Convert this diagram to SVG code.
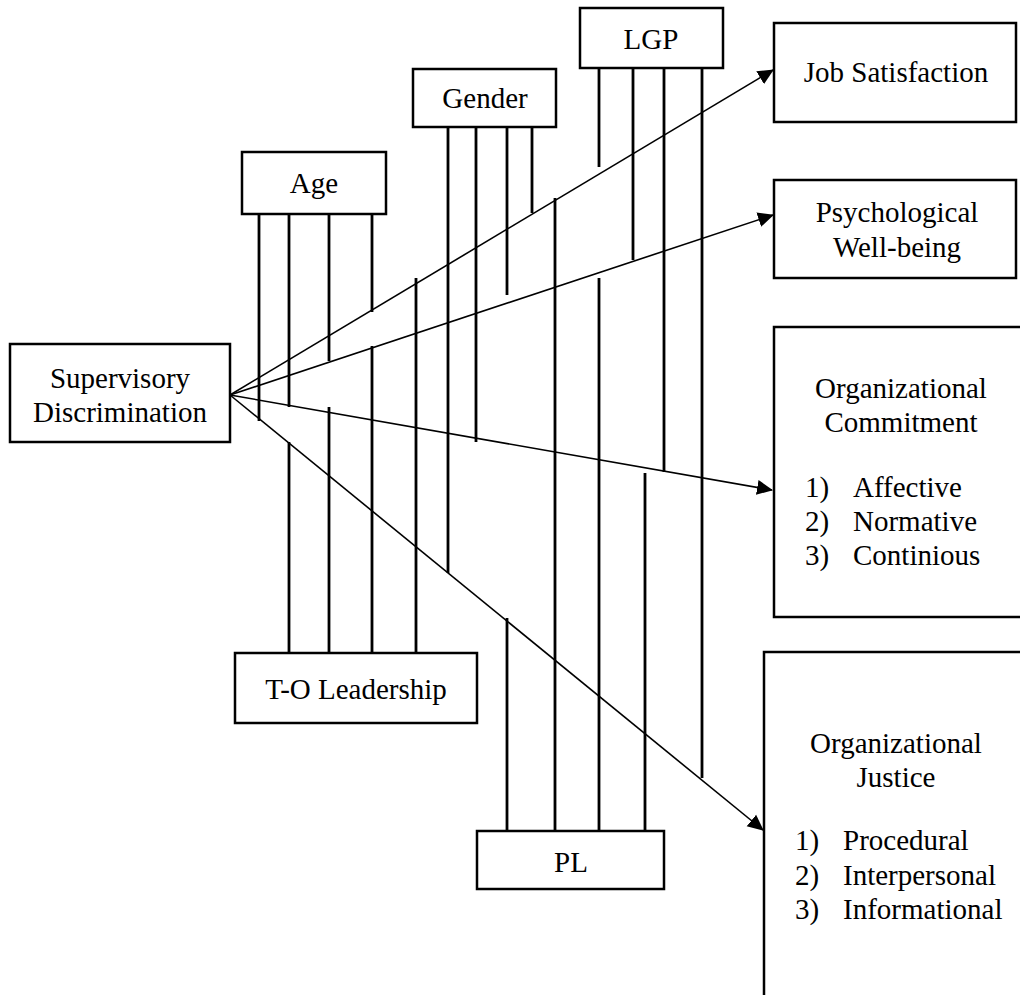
<svg xmlns="http://www.w3.org/2000/svg" width="1020" height="995" viewBox="0 0 1020 995">
<defs>
<style>
.box{fill:#fff;stroke:#000;stroke-width:2.5}
.t{font-family:"Liberation Serif","Times New Roman",serif;font-size:29px;fill:#000}
.c{text-anchor:middle}
.v{stroke:#000;stroke-width:2.8;fill:none}
.a{stroke:#000;stroke-width:1.6;fill:none;marker-end:url(#ah)}
</style>
<marker id="ah" markerUnits="userSpaceOnUse" markerWidth="16" markerHeight="16" viewBox="0 0 16 16" refX="15" refY="8" orient="auto">
<path d="M0,0.5 L16,8 L0,15.5 Z" fill="#000"/>
</marker>
</defs>
<rect width="1020" height="995" fill="#fff"/>
<g id="connectors">
<line class="v" x1="259" y1="214" x2="259" y2="421"/>
<line class="v" x1="289" y1="214" x2="289" y2="407"/>
<line class="v" x1="329" y1="214" x2="329" y2="361"/>
<line class="v" x1="372" y1="214" x2="372" y2="312"/>
<line class="v" x1="289" y1="442" x2="289" y2="653"/>
<line class="v" x1="329" y1="407" x2="329" y2="653"/>
<line class="v" x1="372" y1="346" x2="372" y2="653"/>
<line class="v" x1="416" y1="278" x2="416" y2="653"/>
<line class="v" x1="448" y1="127" x2="448" y2="573"/>
<line class="v" x1="476" y1="127" x2="476" y2="442"/>
<line class="v" x1="507" y1="127" x2="507" y2="295"/>
<line class="v" x1="532" y1="127" x2="532" y2="213"/>
<line class="v" x1="507" y1="618" x2="507" y2="831"/>
<line class="v" x1="555" y1="198" x2="555" y2="831"/>
<line class="v" x1="599" y1="278" x2="599" y2="831"/>
<line class="v" x1="645" y1="473" x2="645" y2="831"/>
<line class="v" x1="599" y1="68" x2="599" y2="167"/>
<line class="v" x1="633" y1="68" x2="633" y2="260"/>
<line class="v" x1="664" y1="68" x2="664" y2="472"/>
<line class="v" x1="702" y1="68" x2="702" y2="778"/>
<line class="a" x1="230" y1="395" x2="773" y2="70"/>
<line class="a" x1="230" y1="395" x2="773" y2="215"/>
<line class="a" x1="230" y1="395" x2="772" y2="490"/>
<line class="a" x1="230" y1="395" x2="763" y2="830"/>
</g>
<g id="supervisory">
<rect class="box" x="10" y="344" width="220" height="98"/>
<text class="t c" x="120" y="388">Supervisory</text>
<text class="t c" x="120" y="422">Discrimination</text>
</g>
<g id="age">
<rect class="box" x="242" y="152" width="144" height="62"/>
<text class="t c" x="314" y="193">Age</text>
</g>
<g id="gender">
<rect class="box" x="413" y="69" width="143" height="58"/>
<text class="t c" x="485" y="108">Gender</text>
</g>
<g id="lgp">
<rect class="box" x="580" y="8" width="143" height="60"/>
<text class="t c" x="651" y="49">LGP</text>
</g>
<g id="tol">
<rect class="box" x="235" y="653" width="242" height="70"/>
<text class="t c" x="356" y="699">T-O Leadership</text>
</g>
<g id="pl">
<rect class="box" x="477" y="831" width="187" height="58"/>
<text class="t c" x="571" y="872">PL</text>
</g>
<g id="jobsat">
<rect class="box" x="774" y="23" width="242" height="99"/>
<text class="t c" x="896" y="82">Job Satisfaction</text>
</g>
<g id="pwb">
<rect class="box" x="774" y="180" width="242" height="98"/>
<text class="t c" x="897" y="222">Psychological</text>
<text class="t c" x="897" y="257">Well-being</text>
</g>
<g id="orgcommit">
<rect class="box" x="774" y="327" width="270" height="290"/>
<text class="t c" x="901" y="398">Organizational</text>
<text class="t c" x="901" y="432">Commitment</text>
<text class="t" x="805" y="497">1)</text><text class="t" x="853" y="497">Affective</text>
<text class="t" x="805" y="531">2)</text><text class="t" x="853" y="531">Normative</text>
<text class="t" x="805" y="565">3)</text><text class="t" x="853" y="565">Continious</text>
</g>
<g id="orgjustice">
<rect class="box" x="764" y="652" width="280" height="400"/>
<text class="t c" x="896" y="753">Organizational</text>
<text class="t c" x="896" y="787">Justice</text>
<text class="t" x="795" y="850">1)</text><text class="t" x="843" y="850">Procedural</text>
<text class="t" x="795" y="885">2)</text><text class="t" x="843" y="885">Interpersonal</text>
<text class="t" x="795" y="919">3)</text><text class="t" x="843" y="919">Informational</text>
</g>
</svg>
